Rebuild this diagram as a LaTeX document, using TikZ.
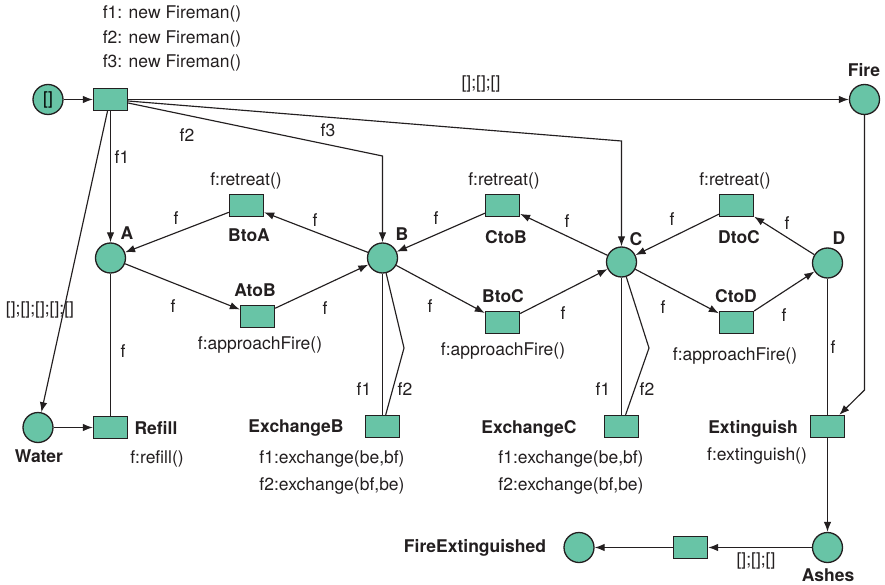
\documentclass[tikz,border=0pt]{standalone}
\usepackage{fontspec}
\setmainfont{TeX Gyre Heros}
\usetikzlibrary{arrows.meta,calc}
\definecolor{pnfill}{RGB}{104,196,166}
\definecolor{pnline}{RGB}{35,31,32}
\tikzset{
  place/.style={circle, draw=pnline, fill=pnfill, line width=1.3pt, minimum size=30pt, inner sep=0pt},
  trans/.style={rectangle, draw=pnline, fill=pnfill, line width=1.3pt, minimum width=34pt, minimum height=22pt, inner sep=0pt},
  arc/.style={draw=pnline, line width=1.15pt},
  arr/.style={arc, -{Latex[length=10pt,width=7.5pt]}},
  lbl/.style={font=\fontsize{17.5}{21}\selectfont, text=pnline, inner sep=0pt},
  bl/.style={font=\fontsize{17.5}{21}\selectfont\bfseries, text=pnline, inner sep=0pt}
}
\begin{document}
\begin{tikzpicture}[x=1pt,y=-1pt]
\useasboundingbox[fill=white] (0,0) rectangle (885,585);

% places
\node[place, font=\fontsize{17.5}{21}\selectfont] (p0) at (48,99.5) {[]};
\node[place] (fire) at (864.5,99.5) {};
\node[place] (A) at (110.5,258) {};
\node[place] (B) at (382.5,258) {};
\node[place] (C) at (621.5,262) {};
\node[place] (D) at (827.5,263) {};
\node[place] (water) at (38,427.5) {};
\node[place] (ashes) at (827.5,547.5) {};
\node[place] (fe) at (579,547.5) {};

% transitions
\node[trans] (t0) at (110.5,99.5) {};
\node[trans] (btoa) at (246.5,205.5) {};
\node[trans] (ctob) at (502.5,205.5) {};
\node[trans] (dtoc) at (736.5,205.5) {};
\node[trans] (atob) at (257.5,316.5) {};
\node[trans] (btoc) at (502.5,322.5) {};
\node[trans] (ctod) at (736.5,322.5) {};
\node[trans] (refill) at (110.5,427.5) {};
\node[trans] (exB) at (382.5,426.5) {};
\node[trans] (exC) at (621.5,426.5) {};
\node[trans] (ext) at (827.5,426.5) {};
\node[trans] (tfe) at (690.5,547.5) {};

% bend points
\coordinate (kB) at (382.5,156);
\coordinate (kC) at (621.5,141);
\coordinate (kF) at (864.5,390);
\coordinate (bB) at (404,348);
\coordinate (bC) at (649,348);

% initialisation
\draw[arr] (p0) -- (t0);
\draw[arr] (t0.east) -- (fire);
\draw[arr] (t0) -- (A);
\draw[arr] ($(t0.east)+(0,3.5)$) -- (kB) -- (B);
\draw[arr] ($(t0.east)+(0,1.5)$) -- (kC) -- (C);
\draw[arr] ($(t0.south)+(-3,0)$) -- (water);

% moves between positions
\draw[arr] (B) -- (btoa);
\draw[arr] (btoa) -- (A);
\draw[arr] (A) -- (atob);
\draw[arr] (atob) -- (B);
\draw[arr] (C) -- (ctob);
\draw[arr] (ctob) -- (B);
\draw[arr] (B) -- (btoc);
\draw[arr] (btoc) -- (C);
\draw[arr] (D) -- (dtoc);
\draw[arr] (dtoc) -- (C);
\draw[arr] (C) -- (ctod);
\draw[arr] (ctod) -- (D);

% refill, exchanges, extinguish
\draw[arc] (A) -- (refill);
\draw[arr] (water) -- (refill);
\draw[arc] (B) -- (exB);
\draw[arc] (B) -- (bB) -- (exB);
\draw[arc] (C) -- (exC);
\draw[arc] (C) -- (bC) -- (exC);
\draw[arc] (D) -- (ext);
\draw[arr] (fire) -- (kF) -- (ext);
\draw[arr] (ext) -- (ashes);
\draw[arr] (ashes) -- (tfe);
\draw[arr] (tfe) -- (fe);

% bold names
\node[bl] (lA) at (127,233) {A};
\node[bl] (lB) at (402,234) {B};
\node[bl] (lC) at (636,239) {C};
\node[bl] (lD) at (839,238) {D};
\node[bl] (lfire) at (864,70) {Fire};
\node[bl] (lwater) at (39,456) {Water};
\node[bl] (lrefill) at (156,428) {Refill};
\node[bl] (lexB) at (296,428) {ExchangeB};
\node[bl] (lexC) at (529,429) {ExchangeC};
\node[bl] (lext) at (753,429) {Extinguish};
\node[bl] (lashes) at (828,575) {Ashes};
\node[bl] (lfe) at (475,548) {FireExtinguished};
\node[bl] (lbtoa) at (249,235) {BtoA};
\node[bl] (latob) at (255,290) {AtoB};
\node[bl] (lctob) at (506,237) {CtoB};
\node[bl] (lbtoc) at (503,296) {BtoC};
\node[bl] (ldtoc) at (739,237) {DtoC};
\node[bl] (lctod) at (736,296) {CtoD};

% guards and actions
\node[lbl] (n1) at (172,14) {f1: new Fireman()};
\node[lbl] (n2) at (172,39) {f2: new Fireman()};
\node[lbl] (n3) at (172,63) {f3: new Fireman()};
\node[lbl] (r1) at (246,181) {f:retreat()};
\node[lbl] (r2) at (504,181) {f:retreat()};
\node[lbl] (r3) at (735,181) {f:retreat()};
\node[lbl] (a1) at (260,345) {f:approachFire()};
\node[lbl] (a2) at (503,351) {f:approachFire()};
\node[lbl] (a3) at (735,356) {f:approachFire()};
\node[lbl] (rf) at (157,459) {f:refill()};
\node[lbl] (eB1) at (332,459) {f1:exchange(be,bf)};
\node[lbl] (eB2) at (332,486) {f2:exchange(bf,be)};
\node[lbl] (eC1) at (571,459) {f1:exchange(be,bf)};
\node[lbl] (eC2) at (571,486) {f2:exchange(bf,be)};
\node[lbl] (ex) at (757,456) {f:extinguish()};

% arc inscriptions
\node[lbl] (i0) at (481,84) {[];[];[]};
\node[lbl] (i1) at (40,310) {[];[];[];[];[]};
\node[lbl] (i2) at (756,561) {[];[];[]};
\node[lbl] (if1) at (122,157) {f1};
\node[lbl] (if2) at (187,135) {f2};
\node[lbl] (if3) at (328,130) {f3};
\node[lbl] at (176,218) {f};
\node[lbl] at (315,220) {f};
\node[lbl] at (173,306) {f};
\node[lbl] at (325,308) {f};
\node[lbl] at (123,351) {f};
\node[lbl] at (436,218) {f};
\node[lbl] at (567,221) {f};
\node[lbl] at (430,306) {f};
\node[lbl] at (563,313) {f};
\node[lbl] at (672,219) {f};
\node[lbl] at (787,223) {f};
\node[lbl] at (663,307) {f};
\node[lbl] at (784,315) {f};
\node[lbl] at (833,347) {f};
\node[lbl] at (364,389) {f1};
\node[lbl] at (405,389) {f2};
\node[lbl] at (603,389) {f1};
\node[lbl] at (647,389) {f2};
\end{tikzpicture}
\end{document}
